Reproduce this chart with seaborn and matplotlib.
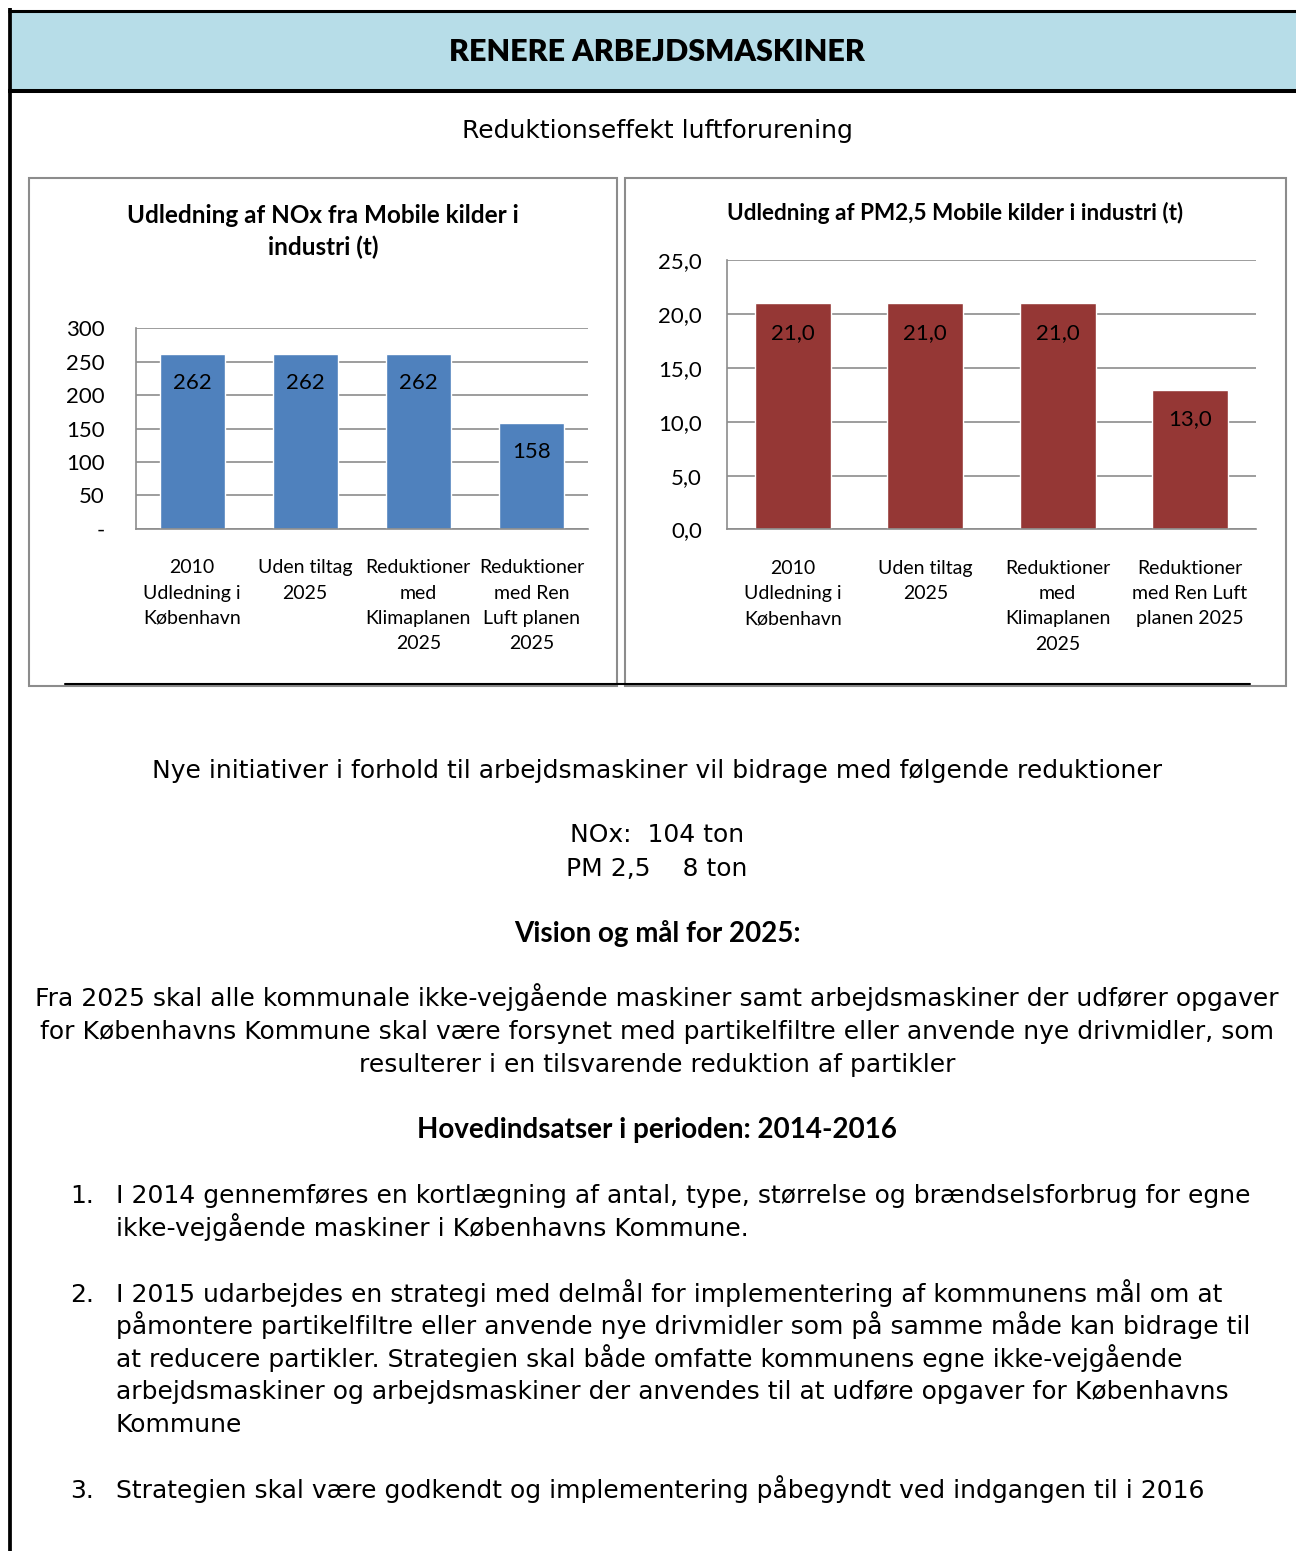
import matplotlib
matplotlib.use("Agg")
import matplotlib.pyplot as plt
from matplotlib.patches import Rectangle
import seaborn as sns
import pandas as pd

# === Data ===
HEADER = "RENERE ARBEJDSMASKINER"
SUBTITLE = "Reduktionseffekt luftforurening"

categories = ["2010 Udledning i København", "Uden tiltag 2025",
              "Reduktioner med Klimaplanen 2025", "Reduktioner med Ren Luft planen 2025"]
nox_labels = ["2010\nUdledning i\nKøbenhavn", "Uden tiltag\n2025",
              "Reduktioner\nmed\nKlimaplanen\n2025", "Reduktioner\nmed Ren\nLuft planen\n2025"]
pm_labels = ["2010\nUdledning i\nKøbenhavn", "Uden tiltag\n2025",
             "Reduktioner\nmed\nKlimaplanen\n2025", "Reduktioner\nmed Ren Luft\nplanen 2025"]
nox_values = [262, 262, 262, 158]
pm_values = [21.0, 21.0, 21.0, 13.0]
nox_title = "Udledning af NOx fra Mobile kilder i\nindustri (t)"
pm_title = "Udledning af PM2,5 Mobile kilder i industri (t)"
nox_ticks = [0, 50, 100, 150, 200, 250, 300]
pm_ticks = [0, 5, 10, 15, 20, 25]

intro = "Nye initiativer i forhold til arbejdsmaskiner vil bidrage med følgende reduktioner"
reductions = ["NOx:  104 ton", "PM 2,5    8 ton"]
vision_head = "Vision og mål for 2025:"
vision_lines = [
    "Fra 2025 skal alle kommunale ikke-vejgående maskiner samt arbejdsmaskiner der udfører opgaver",
    "for Københavns Kommune skal være forsynet med partikelfiltre eller anvende nye drivmidler, som",
    "resulterer i en tilsvarende reduktion af partikler",
]
focus_head = "Hovedindsatser i perioden: 2014-2016"
items = [
    ["I 2014 gennemføres en kortlægning af antal, type, størrelse og brændselsforbrug for egne",
     "ikke-vejgående maskiner i Københavns Kommune."],
    ["I 2015 udarbejdes en strategi med delmål for implementering af kommunens mål om at",
     "påmontere partikelfiltre eller anvende nye drivmidler som på samme måde kan bidrage til",
     "at reducere partikler. Strategien skal både omfatte kommunens egne ikke-vejgående",
     "arbejdsmaskiner og arbejdsmaskiner der anvendes til at udføre opgaver for Københavns",
     "Kommune"],
    ["Strategien skal være godkendt og implementering påbegyndt ved indgangen til i 2016"],
]

# === Style ===
sns.set_style("white")
plt.rcParams['font.family'] = ['Lato', 'DejaVu Sans']
plt.rcParams['text.color'] = 'black'
plt.rcParams['xtick.color'] = 'black'
plt.rcParams['ytick.color'] = 'black'
BODY = ['DejaVu Sans']
BASE = 8  # baseline offset from visual line centre (px)

W, H = 1296, 1551
GRID = "#8c8c8c"
fig = plt.figure(figsize=(W / 100, H / 100), dpi=100)

# page background in pixel coords
bg = fig.add_axes([0, 0, 1, 1])
bg.set_xlim(0, W)
bg.set_ylim(H, 0)
bg.axis("off")


def body(x, y, s, ha="center", **kw):
    kw.setdefault("fontsize", 18)
    kw.setdefault("family", BODY)
    bg.text(x, y + BASE, s, ha=ha, va="baseline", **kw)


bg.add_patch(Rectangle((10, 12), W - 10, 77, facecolor="#b7dde8", edgecolor="none"))
bg.plot([9.5, 9.5], [8, H], color="black", lw=2.7, solid_capstyle="butt")
bg.plot([8, W], [10.5, 10.5], color="black", lw=2.2, solid_capstyle="butt")
bg.plot([8, W], [90.5, 90.5], color="black", lw=2.9, solid_capstyle="butt")
bg.text(657, 52, HEADER, ha="center", va="center", fontsize=22, fontweight="heavy")
body(657, 130, SUBTITLE)

# chart boxes
bg.add_patch(Rectangle((29, 178), 588, 508, facecolor="white", edgecolor=GRID, lw=1.5))
bg.add_patch(Rectangle((625, 178), 661, 508, facecolor="white", edgecolor=GRID, lw=1.5))
bg.plot([65, 1250], [684, 684], color="black", lw=1.5)
bg.text(323, 231.5, nox_title, ha="center", va="center", fontsize=17.5,
        fontweight="bold", linespacing=1.46)
bg.text(955, 213, pm_title, ha="center", va="center", fontsize=16.2, fontweight="bold")


def px_axes(x0, x1, ytop, ybot):
    return fig.add_axes([x0 / W, 1 - ybot / H, (x1 - x0) / W, (ybot - ytop) / H])


def draw_chart(ax, values, labels, ticks, color, ticklabels, fmt, ypad):
    df = pd.DataFrame({"cat": categories, "val": values})
    sns.barplot(data=df, x="cat", y="val", color=color, saturation=1, width=0.575, ax=ax)
    ax.set_facecolor("none")
    ax.set_xlim(-0.5, len(categories) - 0.5)
    ax.set_ylim(ticks[0], ticks[-1])
    ax.set_yticks(ticks)
    ax.set_yticklabels(ticklabels, fontsize=16)
    ax.set_xticks(range(len(categories)))
    ax.set_xticklabels(labels, fontsize=14, linespacing=1.59)
    ax.set_xlabel("")
    ax.set_ylabel("")
    ax.tick_params(axis="x", length=0, pad=22)
    ax.tick_params(axis="y", length=0, pad=ypad)
    ax.yaxis.grid(True, color=GRID, lw=1.2)
    ax.set_axisbelow(True)
    for s in ["top", "right"]:
        ax.spines[s].set_visible(False)
    for s in ["left", "bottom"]:
        ax.spines[s].set_color(GRID)
        ax.spines[s].set_linewidth(1.2)
    for p, v in zip(ax.patches, values):
        ax.annotate(fmt(v), (p.get_x() + p.get_width() / 2, p.get_height()),
                    xytext=(0, -21), textcoords="offset points",
                    ha="center", va="center", fontsize=16)


ax1 = px_axes(135.5, 588, 328.5, 528.7)
draw_chart(ax1, nox_values, nox_labels, nox_ticks, "#4f81bd",
           ["-" if t == 0 else str(t) for t in nox_ticks], lambda v: f"{v:d}", 22)

ax2 = px_axes(727, 1256, 260.4, 529.4)
draw_chart(ax2, pm_values, pm_labels, pm_ticks, "#953735",
           [f"{t:.1f}".replace(".", ",") for t in pm_ticks],
           lambda v: f"{v:.1f}".replace(".", ","), 18)

# === Body text ===
body(657, 770, intro)
for i, line in enumerate(reductions):
    body(657, 834 + 34 * i, line)
body(657, 934, vision_head, fontsize=20, fontweight="bold", family=["Lato"])
for i, line in enumerate(vision_lines):
    body(657, 998 + 33 * i, line)
body(657, 1130, focus_head, fontsize=20, fontweight="bold", family=["Lato"])

y = 1195
for n, lines in enumerate(items, start=1):
    body(70, y, f"{n}.", ha="left")
    for line in lines:
        body(116, y, line, ha="left")
        y += 32.6
    y += 33.4

fig.savefig("out.png", dpi=100)
